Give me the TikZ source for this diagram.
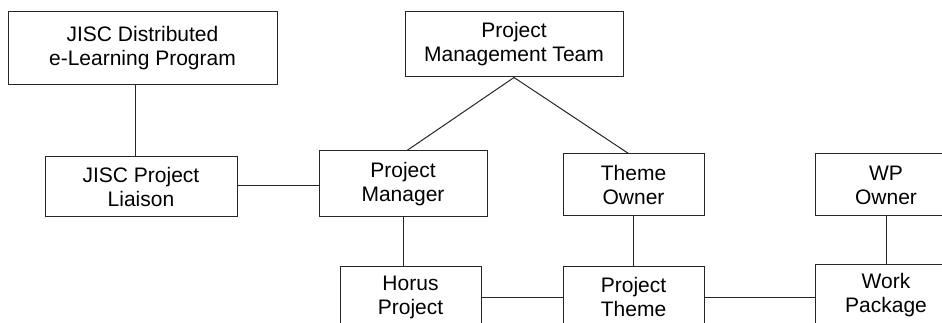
\documentclass[tikz,border=0pt]{standalone}
\usepackage{fontspec}
\setmainfont{Liberation Sans}
\usetikzlibrary{positioning}

\begin{document}
\begin{tikzpicture}[
    x=1pt, y=-1pt,
    font=\fontsize{21}{24}\selectfont,
    box/.style={draw=black!85, line width=1pt, align=center, inner sep=0pt, minimum width=#1},
    box/.default=141pt,
    link/.style={draw=black!85, line width=1pt},
  ]
  \useasboundingbox (0,0) rectangle (942,323);
  \clip (0,0) rectangle (942,323);
  % ---- top row
  \node[box=269pt, minimum height=73pt] (dist) at (142.5,48.5) {JISC Distributed\\e-Learning Program};
  \node[box=218pt, minimum height=65pt] (pmt) at (514,44.5) {Project\\Management Team};
  % ---- middle row
  \node[box=192pt, minimum height=60pt, below=71pt of dist, xshift=-1.5pt] (liaison) {JISC Project\\Liaison};
  \node[box=168pt, minimum height=66pt, right=81pt of liaison, yshift=3pt] (pm) {Project\\Manager};
  \node[box, minimum height=62pt, right=75pt of pm, yshift=-1pt] (towner) {Theme\\Owner};
  \node[box=142pt, minimum height=62pt, right=110pt of towner] (wpowner) {WP\\Owner};
  % ---- bottom row
  \node[box, minimum height=62pt, below=49pt of towner] (ptheme) {Project\\Theme};
  \node[box, minimum height=62pt, left=81pt of ptheme] (horus) {Horus\\Project};
  \node[box=142pt, minimum height=62pt, below=47pt of wpowner] (work) {Work\\Package};
  % ---- links
  \draw[link] ([xshift=-6pt]liaison.north) -- ([xshift=-6pt]liaison.north |- dist.south);
  \draw[link] ([yshift=1pt]liaison.east) -- ([yshift=1pt]liaison.east -| pm.west);
  \draw[link] (pmt.south) -- ([xshift=4pt]pm.north);
  \draw[link] (pmt.south) -- ([xshift=-5pt]towner.north);
  \draw[link] (pm.south) -- (pm.south |- horus.north);
  \draw[link] (towner) -- (ptheme);
  \draw[link] (wpowner) -- (work);
  \draw[link] (horus.east) -- (horus.east -| ptheme.west);
  \draw[link] (ptheme.east) -- (ptheme.east -| work.west);
\end{tikzpicture}
\end{document}
